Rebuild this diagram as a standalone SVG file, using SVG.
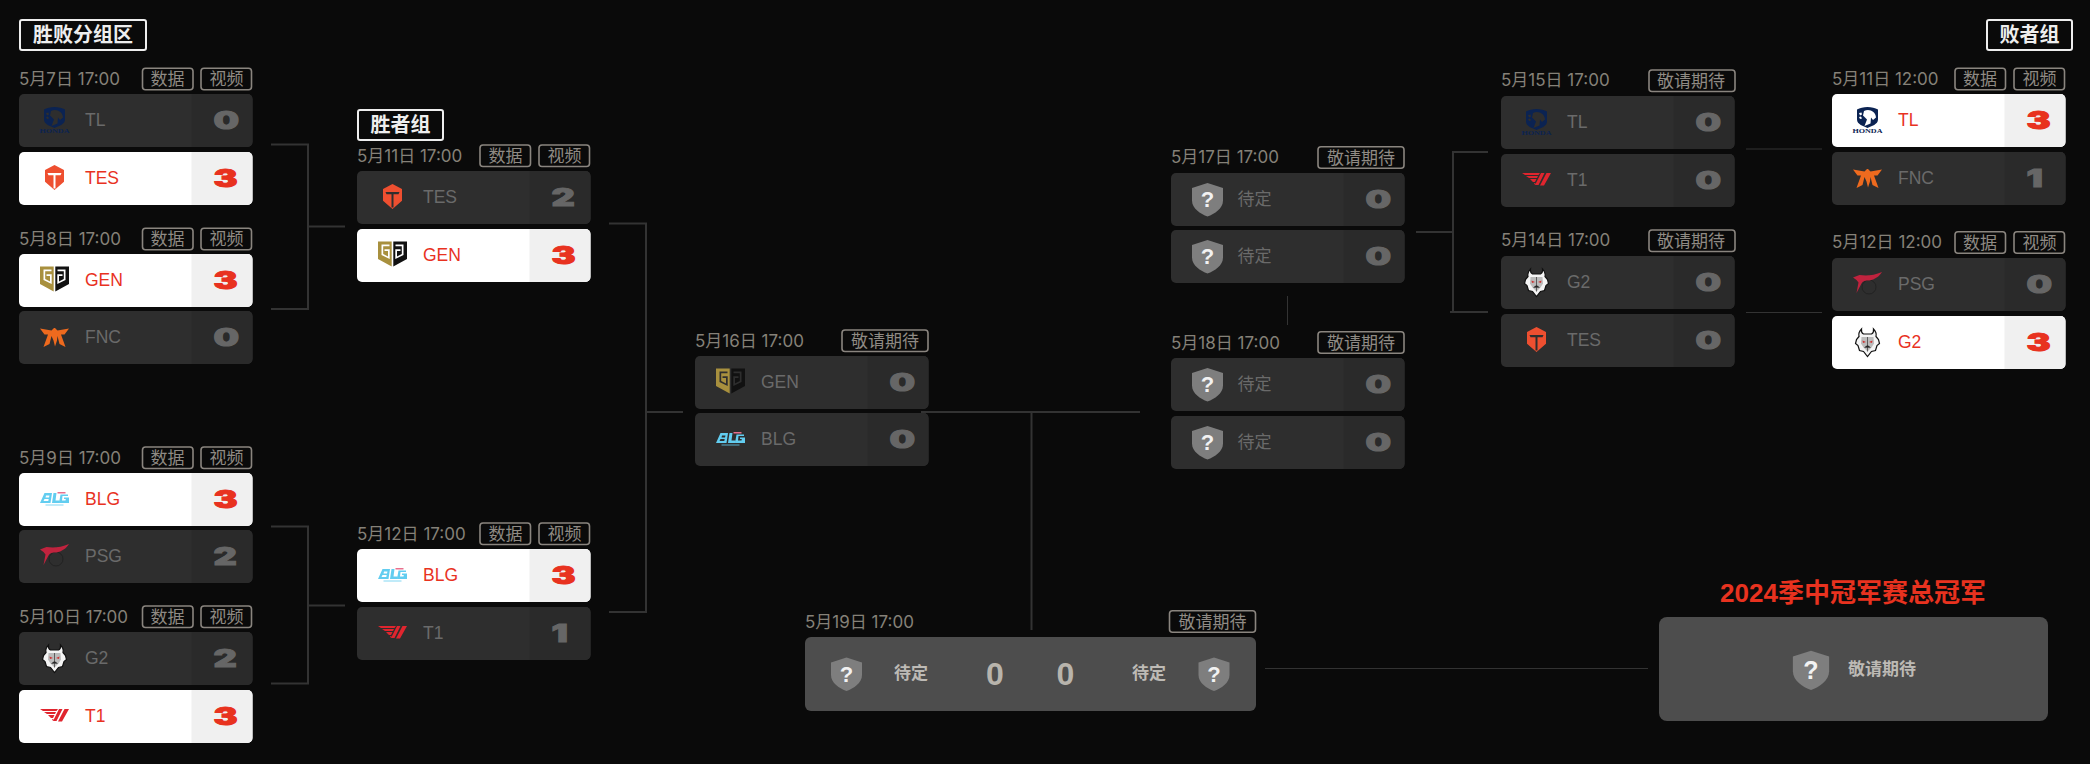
<svg xmlns="http://www.w3.org/2000/svg" width="2090" height="764" viewBox="0 0 2090 764">
<style>
text{font-family:"Noto Sans CJK SC",sans-serif}
.d{font:17px Inter,"Noto Sans CJK SC",sans-serif;fill:#858178}
.tg{font-size:17px;fill:#8f8a84;text-anchor:middle}
.t{fill:none;stroke:#8a857f;stroke-width:1.600}
.h{fill:none;stroke:#eee;stroke-width:2}
.ht{font-size:20px;font-weight:700;fill:#eee;text-anchor:middle}
.b{fill:#2e2e2e}.s{fill:#2a2a2a}
.w .b{fill:#fff}.w .s{fill:#f0f0f0}
.n{font:17.500px "Liberation Sans",sans-serif;fill:#6a6a6a}
.w .n{fill:#e8321f}
.p{font-size:17px;fill:#6a6a6a}
.sc{font:900 24px Inter,"Liberation Sans",sans-serif;fill:#666;stroke:#666;stroke-width:1}
.w .sc{fill:#e8321f;stroke:#e8321f}
.hd{font:700 5.500px "Liberation Serif",serif;fill:#0b2352;text-anchor:middle}
.q{font:700 22px "Liberation Sans",sans-serif;fill:#f2f2f2;text-anchor:middle}
.fb{fill:#4d4d4d}
.fp{font-size:17px;font-weight:700;fill:#bdbab5}
.fs{font:700 32px "Liberation Sans",sans-serif;fill:#b8b4ac;text-anchor:middle}
.c{font:700 26px "Liberation Sans","Noto Sans CJK SC",sans-serif;fill:#e8321f;text-anchor:middle}
#lines path{fill:none;stroke:#333;stroke-width:2}
#lines path.thin{stroke-width:1}
</style>
<defs>
<path id="sd" d="M172.500 0H228.500a5 5 0 0 1 5 5V48a5 5 0 0 1-5 5H172.500Z"/>
<path id="shield" fill="#7e7e7e" d="M0-16.500L15.500-11.500V1C15.500 9 7 14.500 0 17 -7 14.500-15.500 9-15.500 1V-11.500Z"/>
<path id="tes" fill="#ee4f30" fill-rule="evenodd" d="M0-13.500L9.500-8.500V3.200L0 11.500-9.500 3.200V-8.500ZM-7-5.500H7L6-3.200H1V10H-1V-3.200H-6Z"/>
<path id="tl" fill="#0b2352" fill-rule="evenodd" d="M-10.500-11C-5-14.500 5-14.500 10.500-11V-1C10.500 4 4 5.500 0 7.500-4 5.500-10.500 4-10.500-1ZM-3.500-9.500C2-12 8-9 8.500-3L5.500-.5 3.500-3 3 3-3 5.500-.5-1-4.500-5ZM-8.500-7.500L-6-8-5.500-6-7.500-5ZM-8.500-3.500L-6.500-4-5.500-2-7.500-1.500Z"/>
<g id="gen"><path fill="#a8903e" fill-rule="evenodd" d="M-14.500-14H-.8V11L-14.500 3.500ZM-11-11H-3V-9.300H-9.300V-1.500L-4.500 1V-4.500H-8V-6.200H-2.800V3.500L-11-.5Z"/><path fill="#111" fill-rule="evenodd" d="M.8-14H14.500V3.500L.8 11ZM3-11H11V-.5L2.800 3.500V-6.200H8V-4.500H4.500V1L9.300-1.500V-9.300H3Z"/></g>
<path id="fnc" fill="#ee6a1e" d="M-14.500-9L-3-7-.5-9.500H.5L3-7 14.500-9 10-3H6.500L11 9.500 5 6.500 3-1.500 2.500 3 .5 9-1 3-3-1.500-5 6.500-11 9.500-6.500-3H-10Z"/>
<g id="blg"><path fill="#62cdf0" fill-rule="evenodd" d="M-10-6.500H-2.500L-4 3.500H-14.500ZM-8.500-4H-5L-5.500-2H-9ZM-10-.5H-5.800L-6.200 1.500H-11ZM-1-6.500H2L1 1H5L4.500 3.500H-2.500ZM6-5H13.500V-3.500H8L7.500 1H11L11.300-.5H9.500V-2H14.500V3.500H4.500Z"/><path fill="#e8708e" d="M3-7.500H11V-6H3Z"/><path stroke="#62cdf0" stroke-width=".8" d="M-9 5.500H9"/></g>
<g id="psg"><circle cx="1.500" cy="2.500" r="7" fill="none" stroke="#222" stroke-width="1"/><path fill="#c0233e" d="M14.500-12.500C9-10 3-9-2-9L-8-9.500-14.500-7-11-4.500-9-2-11 8.500-6-1C-5-3.500-2-4 2-4 7-5 12-8 14.500-12.500Z"/></g>
<g id="g2"><path fill="#f4f4f4" stroke="#111" stroke-width="1.200" d="M-6-13.500C-6.500-10-5-9-4-8.500H4C5-9 6.500-10 6-13.500 8.500-11 9-8 8.500-6L11-3 12 1 9.500 3 8 8 4 9 0 14-4 9-8 8-9.500 3-12 1-11-3-8.500-6C-9-8-8.500-11-6-13.500Z"/><path fill="#bbb" d="M-6-5.500H6L6.500 1 4 5 0 9-4 5-6.500 1Z"/><path fill="#c33" d="M-5-2L-1.500-.5-4.500.5ZM5-2L1.500-.5 4.500.5Z"/><path stroke="#333" stroke-width=".7" d="M0-5.500V9M-3 5L0 3 3 5"/></g>
<path id="t1" fill="#e0252e" d="M-14.500-7.500H3.500L2-5.500H-11.500ZM-10.500-4.500H1.500L.5-2.500H-7.500ZM-6.500-1.500H0L-1.500 1.500H-3.500ZM-2.500 2.500H-1L-1.500 4.500ZM4.500-7.500H8L2 4.500H-1.500ZM10-7.500H14.500L7.500 5H3.500Z"/>
</defs>
<rect width="2090" height="764" fill="#0a0a0a"/>
<g id="lines">
<path d="M271 144.500H308V309H271M308 226.500H345"/>
<path d="M271 526.500H308V683.500H271M308 605.500H345"/>
<path d="M609 223.500H646V612H609M646 412H683"/>
<path d="M921 412H1140M1031.500 412V630"/>
<path d="M1416 232H1453M1488 152H1453V312H1488M1450 312H1453"/>
<path class="thin" d="M1287.500 296V325M1746 149H1822M1746 312.500H1822M1265 668.500H1648"/>
</g>
<g id="head-winners"><rect class="h" x="20" y="20" width="126" height="30" rx="2"/><text class="ht" x="83" y="42">胜败分组区</text></g>
<g id="head-upper"><rect class="h" x="358" y="110" width="85" height="30" rx="2"/><text class="ht" x="400.500" y="132">胜者组</text></g>
<g id="head-losers"><rect class="h" x="1987" y="20" width="85" height="30" rx="2"/><text class="ht" x="2029.500" y="42">败者组</text></g>

<g id="m1"><text class="d" x="19" y="84.500">5月7日 17:00</text>
<rect class="t" x="142.500" y="68.250" width="50.500" height="21.500" rx="3"/><text class="tg" x="167.500" y="85">数据</text><rect class="t" x="201" y="68.250" width="50.500" height="21.500" rx="3"/><text class="tg" x="226.500" y="85">视频</text>
<g transform="translate(19,94)"><rect class="b" width="233.500" height="53" rx="5"/><use class="s" href="#sd"/><use href="#tl" x="35.500" y="26.500"/><text class="hd" x="35.500" y="39" textLength="30" lengthAdjust="spacingAndGlyphs">HONDA</text><text class="n" x="66" y="32">TL</text><text class="sc" transform="translate(194.500,35) scale(1.500,1)">0</text></g>
<g class="w" transform="translate(19,152)"><rect class="b" width="233.500" height="53" rx="5"/><use class="s" href="#sd"/><use href="#tes" x="35.500" y="26.500"/><text class="n" x="66" y="32">TES</text><text class="sc" transform="translate(194.500,35) scale(1.500,1)">3</text></g></g>

<g id="m2"><text class="d" x="19" y="244.500">5月8日 17:00</text>
<rect class="t" x="142.500" y="228.250" width="50.500" height="21.500" rx="3"/><text class="tg" x="167.500" y="245">数据</text><rect class="t" x="201" y="228.250" width="50.500" height="21.500" rx="3"/><text class="tg" x="226.500" y="245">视频</text>
<g class="w" transform="translate(19,254)"><rect class="b" width="233.500" height="53" rx="5"/><use class="s" href="#sd"/><use href="#gen" x="35.500" y="26.500"/><text class="n" x="66" y="32">GEN</text><text class="sc" transform="translate(194.500,35) scale(1.500,1)">3</text></g>
<g transform="translate(19,311)"><rect class="b" width="233.500" height="53" rx="5"/><use class="s" href="#sd"/><use href="#fnc" x="35.500" y="26.500"/><text class="n" x="66" y="32">FNC</text><text class="sc" transform="translate(194.500,35) scale(1.500,1)">0</text></g></g>

<g id="m3"><text class="d" x="19" y="463.500">5月9日 17:00</text>
<rect class="t" x="142.500" y="447" width="50.500" height="21.500" rx="3"/><text class="tg" x="167.500" y="464">数据</text><rect class="t" x="201" y="447" width="50.500" height="21.500" rx="3"/><text class="tg" x="226.500" y="464">视频</text>
<g class="w" transform="translate(19,473)"><rect class="b" width="233.500" height="53" rx="5"/><use class="s" href="#sd"/><use href="#blg" x="35.500" y="26.500"/><text class="n" x="66" y="32">BLG</text><text class="sc" transform="translate(194.500,35) scale(1.500,1)">3</text></g>
<g transform="translate(19,530)"><rect class="b" width="233.500" height="53" rx="5"/><use class="s" href="#sd"/><use href="#psg" x="35.500" y="26.500"/><text class="n" x="66" y="32">PSG</text><text class="sc" transform="translate(194.500,35) scale(1.500,1)">2</text></g></g>

<g id="m4"><text class="d" x="19" y="622.500">5月10日 17:00</text>
<rect class="t" x="142.500" y="606" width="50.500" height="21.500" rx="3"/><text class="tg" x="167.500" y="623">数据</text><rect class="t" x="201" y="606" width="50.500" height="21.500" rx="3"/><text class="tg" x="226.500" y="623">视频</text>
<g transform="translate(19,632)"><rect class="b" width="233.500" height="53" rx="5"/><use class="s" href="#sd"/><use href="#g2" x="35.500" y="26.500"/><text class="n" x="66" y="32">G2</text><text class="sc" transform="translate(194.500,35) scale(1.500,1)">2</text></g>
<g class="w" transform="translate(19,690)"><rect class="b" width="233.500" height="53" rx="5"/><use class="s" href="#sd"/><use href="#t1" x="35.500" y="26.500"/><text class="n" x="66" y="32">T1</text><text class="sc" transform="translate(194.500,35) scale(1.500,1)">3</text></g></g>

<g id="m5"><text class="d" x="357" y="161.500">5月11日 17:00</text>
<rect class="t" x="480" y="145" width="50.500" height="21.500" rx="3"/><text class="tg" x="505.500" y="162">数据</text><rect class="t" x="539" y="145" width="50.500" height="21.500" rx="3"/><text class="tg" x="564.500" y="162">视频</text>
<g transform="translate(357,171)"><rect class="b" width="233.500" height="53" rx="5"/><use class="s" href="#sd"/><use href="#tes" x="35.500" y="26.500"/><text class="n" x="66" y="32">TES</text><text class="sc" transform="translate(194.500,35) scale(1.500,1)">2</text></g>
<g class="w" transform="translate(357,229)"><rect class="b" width="233.500" height="53" rx="5"/><use class="s" href="#sd"/><use href="#gen" x="35.500" y="26.500"/><text class="n" x="66" y="32">GEN</text><text class="sc" transform="translate(194.500,35) scale(1.500,1)">3</text></g></g>

<g id="m6"><text class="d" x="357" y="539.500">5月12日 17:00</text>
<rect class="t" x="480" y="523" width="50.500" height="21.500" rx="3"/><text class="tg" x="505.500" y="540">数据</text><rect class="t" x="539" y="523" width="50.500" height="21.500" rx="3"/><text class="tg" x="564.500" y="540">视频</text>
<g class="w" transform="translate(357,549)"><rect class="b" width="233.500" height="53" rx="5"/><use class="s" href="#sd"/><use href="#blg" x="35.500" y="26.500"/><text class="n" x="66" y="32">BLG</text><text class="sc" transform="translate(194.500,35) scale(1.500,1)">3</text></g>
<g transform="translate(357,607)"><rect class="b" width="233.500" height="53" rx="5"/><use class="s" href="#sd"/><use href="#t1" x="35.500" y="26.500"/><text class="n" x="66" y="32">T1</text><text class="sc" transform="translate(194.500,35) scale(1.500,1)">1</text></g></g>

<g id="m7"><text class="d" x="695" y="346.500">5月16日 17:00</text>
<rect class="t" x="842" y="330" width="86" height="21.500" rx="3"/><text class="tg" x="885" y="347">敬请期待</text>
<g transform="translate(695,356)"><rect class="b" width="233.500" height="53" rx="5"/><use class="s" href="#sd"/><use href="#gen" x="35.500" y="26.500"/><text class="n" x="66" y="32">GEN</text><text class="sc" transform="translate(194.500,35) scale(1.500,1)">0</text></g>
<g transform="translate(695,413)"><rect class="b" width="233.500" height="53" rx="5"/><use class="s" href="#sd"/><use href="#blg" x="35.500" y="26.500"/><text class="n" x="66" y="32">BLG</text><text class="sc" transform="translate(194.500,35) scale(1.500,1)">0</text></g></g>

<g id="m8"><text class="d" x="1171" y="163">5月17日 17:00</text>
<rect class="t" x="1318" y="146.750" width="86" height="21.500" rx="3"/><text class="tg" x="1361" y="164">敬请期待</text>
<g transform="translate(1171,173)"><rect class="b" width="233.500" height="53" rx="5"/><use class="s" href="#sd"/><use href="#shield" x="36.500" y="26.500"/><text class="q" x="36.500" y="34">?</text><text class="p" x="66.500" y="32">待定</text><text class="sc" transform="translate(194.500,35) scale(1.500,1)">0</text></g>
<g transform="translate(1171,230)"><rect class="b" width="233.500" height="53" rx="5"/><use class="s" href="#sd"/><use href="#shield" x="36.500" y="26.500"/><text class="q" x="36.500" y="34">?</text><text class="p" x="66.500" y="32">待定</text><text class="sc" transform="translate(194.500,35) scale(1.500,1)">0</text></g></g>

<g id="m9"><text class="d" x="1171" y="349">5月18日 17:00</text>
<rect class="t" x="1318" y="331.750" width="86" height="21.500" rx="3"/><text class="tg" x="1361" y="349">敬请期待</text>
<g transform="translate(1171,358)"><rect class="b" width="233.500" height="53" rx="5"/><use class="s" href="#sd"/><use href="#shield" x="36.500" y="26.500"/><text class="q" x="36.500" y="34">?</text><text class="p" x="66.500" y="32">待定</text><text class="sc" transform="translate(194.500,35) scale(1.500,1)">0</text></g>
<g transform="translate(1171,416)"><rect class="b" width="233.500" height="53" rx="5"/><use class="s" href="#sd"/><use href="#shield" x="36.500" y="26.500"/><text class="q" x="36.500" y="34">?</text><text class="p" x="66.500" y="32">待定</text><text class="sc" transform="translate(194.500,35) scale(1.500,1)">0</text></g></g>

<g id="m10"><text class="d" x="1501" y="86">5月15日 17:00</text>
<rect class="t" x="1649" y="70" width="86" height="21.500" rx="3"/><text class="tg" x="1691" y="87">敬请期待</text>
<g transform="translate(1501,96)"><rect class="b" width="233.500" height="53" rx="5"/><use class="s" href="#sd"/><use href="#tl" x="35.500" y="26.500"/><text class="hd" x="35.500" y="39" textLength="30" lengthAdjust="spacingAndGlyphs">HONDA</text><text class="n" x="66" y="32">TL</text><text class="sc" transform="translate(194.500,35) scale(1.500,1)">0</text></g>
<g transform="translate(1501,154)"><rect class="b" width="233.500" height="53" rx="5"/><use class="s" href="#sd"/><use href="#t1" x="35.500" y="26.500"/><text class="n" x="66" y="32">T1</text><text class="sc" transform="translate(194.500,35) scale(1.500,1)">0</text></g></g>

<g id="m11"><text class="d" x="1501" y="246">5月14日 17:00</text>
<rect class="t" x="1649" y="230" width="86" height="21.500" rx="3"/><text class="tg" x="1691" y="247">敬请期待</text>
<g transform="translate(1501,256)"><rect class="b" width="233.500" height="53" rx="5"/><use class="s" href="#sd"/><use href="#g2" x="35.500" y="26.500"/><text class="n" x="66" y="32">G2</text><text class="sc" transform="translate(194.500,35) scale(1.500,1)">0</text></g>
<g transform="translate(1501,314)"><rect class="b" width="233.500" height="53" rx="5"/><use class="s" href="#sd"/><use href="#tes" x="35.500" y="26.500"/><text class="n" x="66" y="32">TES</text><text class="sc" transform="translate(194.500,35) scale(1.500,1)">0</text></g></g>

<g id="m12"><text class="d" x="1832" y="84.500">5月11日 12:00</text>
<rect class="t" x="1955" y="68.250" width="50.500" height="21.500" rx="3"/><text class="tg" x="1980" y="85">数据</text><rect class="t" x="2014" y="68.250" width="50.500" height="21.500" rx="3"/><text class="tg" x="2039.500" y="85">视频</text>
<g class="w" transform="translate(1832,94)"><rect class="b" width="233.500" height="53" rx="5"/><use class="s" href="#sd"/><use href="#tl" x="35.500" y="26.500"/><text class="hd" x="35.500" y="39" textLength="30" lengthAdjust="spacingAndGlyphs">HONDA</text><text class="n" x="66" y="32">TL</text><text class="sc" transform="translate(194.500,35) scale(1.500,1)">3</text></g>
<g transform="translate(1832,152)"><rect class="b" width="233.500" height="53" rx="5"/><use class="s" href="#sd"/><use href="#fnc" x="35.500" y="26.500"/><text class="n" x="66" y="32">FNC</text><text class="sc" transform="translate(194.500,35) scale(1.500,1)">1</text></g></g>

<g id="m13"><text class="d" x="1832" y="248">5月12日 12:00</text>
<rect class="t" x="1955" y="231.750" width="50.500" height="21.500" rx="3"/><text class="tg" x="1980" y="248.500">数据</text><rect class="t" x="2014" y="231.750" width="50.500" height="21.500" rx="3"/><text class="tg" x="2039.500" y="248.500">视频</text>
<g transform="translate(1832,258)"><rect class="b" width="233.500" height="53" rx="5"/><use class="s" href="#sd"/><use href="#psg" x="35.500" y="26.500"/><text class="n" x="66" y="32">PSG</text><text class="sc" transform="translate(194.500,35) scale(1.500,1)">0</text></g>
<g class="w" transform="translate(1832,316)"><rect class="b" width="233.500" height="53" rx="5"/><use class="s" href="#sd"/><use href="#g2" x="35.500" y="26.500"/><text class="n" x="66" y="32">G2</text><text class="sc" transform="translate(194.500,35) scale(1.500,1)">3</text></g></g>

<g id="final"><text class="d" x="805" y="627.500">5月19日 17:00</text>
<rect class="t" x="1169.500" y="610.750" width="86" height="21.500" rx="3"/><text class="tg" x="1212.500" y="628">敬请期待</text>
<rect class="fb" x="805" y="637" width="451" height="74" rx="6"/>
<use href="#shield" x="846.500" y="674"/><text class="q" x="846.500" y="681.500">?</text><text class="fp" x="894" y="679">待定</text>
<text class="fs" x="995" y="685">0</text><text class="fs" x="1065.500" y="685">0</text>
<text class="fp" x="1132" y="679">待定</text><use href="#shield" x="1214" y="674"/><text class="q" x="1214" y="681.500">?</text></g>

<g id="champion"><text class="c" x="1853" y="602">2024季中冠军赛总冠军</text>
<rect class="fb" x="1659" y="617" width="389" height="104" rx="8"/>
<use href="#shield" transform="translate(1811,670) scale(1.170)"/><text class="q" style="font-size:25px" x="1811" y="679">?</text><text class="fp" x="1848" y="675">敬请期待</text></g>
</svg>
